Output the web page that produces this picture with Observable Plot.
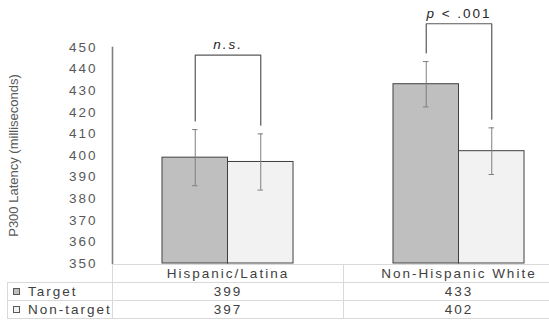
<!DOCTYPE html>
<html><head><meta charset="utf-8">
<script src="https://cdn.jsdelivr.net/npm/d3@7"></script>
<script src="https://cdn.jsdelivr.net/npm/@observablehq/plot@0.6"></script>
<style>
html,body{margin:0;padding:0;background:#fff;overflow:hidden;width:549px;height:320px;}
#wrap{position:relative;width:600px;height:320px;font-family:"Liberation Sans",Arial,sans-serif;}
#wrap svg{position:absolute;left:0;top:0;overflow:visible;}
table{position:absolute;left:7px;top:264px;border-collapse:collapse;table-layout:fixed;font-size:13.5px;letter-spacing:2px;color:#404040;font-family:"Liberation Sans",Arial,sans-serif;}
td{border:1px solid #d9d9d9;height:17px;padding:0;text-align:center;line-height:17px;white-space:nowrap;overflow:hidden;}
td.lab{text-align:left;padding-left:5px;}
td.blank{border-top:none;border-left:none;}
.sw{display:inline-block;width:5px;height:5px;border:1px solid #595959;margin-right:8px;vertical-align:1px;}
</style></head><body><div id="wrap"></div>
<script>
// ---- data ----
const categories = ["Hispanic/Latina", "Non-Hispanic White"];
const series = ["Target", "Non-target"];
const targetValues = [399, 433];
const nonTargetValues = [397, 402];
const targetErr = [13, 10.5];
const nonTargetErr = [13, 10.8];
const bracketLabels = ["n.s.", "p < .001"];
const bracketHeights = [446.5, 461];
const yTicks = [350, 360, 370, 380, 390, 400, 410, 420, 430, 440, 450];
const seriesColors = ["#bfbfbf", "#f2f2f2"];
const yLabel = "P300 Latency (milliseconds)";

// ---- derived tables ----
const rows = [];
categories.forEach((c, i) => {
  rows.push({group: c, series: series[0], value: targetValues[i], lo: targetValues[i] - targetErr[i], hi: targetValues[i] + targetErr[i]});
  rows.push({group: c, series: series[1], value: nonTargetValues[i], lo: nonTargetValues[i] - nonTargetErr[i], hi: nonTargetValues[i] + nonTargetErr[i]});
});
const gap = 4;
const bracketPts = [];
categories.forEach((c, i) => {
  const hT = targetValues[i] + targetErr[i] + gap;
  const hN = nonTargetValues[i] + nonTargetErr[i] + gap;
  bracketPts.push({group: c, x: series[0], y: hT});
  bracketPts.push({group: c, x: series[0], y: bracketHeights[i]});
  bracketPts.push({group: c, x: series[1], y: bracketHeights[i]});
  bracketPts.push({group: c, x: series[1], y: hN});
});
const brackets = categories.map((c, i) => ({group: c, y: bracketHeights[i], label: bracketLabels[i]}));

const yMin = yTicks[0], yMax = yTicks[yTicks.length - 1];
const mL = 112, catW = 231;

const svg = Plot.plot({
  width: mL + catW * categories.length + 1,
  height: 264,
  marginLeft: mL,
  marginRight: 1,
  marginTop: 47,
  marginBottom: 1,
  style: {fontFamily: '"Liberation Sans", Arial, sans-serif', fontSize: "13.5px", color: "#595959", background: "transparent"},
  fx: {domain: categories, padding: 0, axis: null},
  x: {domain: series, paddingInner: 0, paddingOuter: 0.763, round: false, axis: null},
  y: {domain: [yMin, yMax], ticks: yTicks, tickSize: 0, tickPadding: 15, label: yLabel, labelAnchor: "center", labelOffset: 104, labelArrow: "none"},
  color: {domain: series, range: seriesColors},
  marks: [
    Plot.barY(rows, {fx: "group", x: "series", y1: yMin, y2: "value", fill: "series", stroke: "#404040", strokeWidth: 1}),
    Plot.ruleX(rows, {fx: "group", x: "series", y1: "lo", y2: "hi", stroke: "#7f7f7f", strokeWidth: 1}),
    Plot.tickY(rows, {fx: "group", x: "series", y: "lo", stroke: "#7f7f7f", insetLeft: 30, insetRight: 30}),
    Plot.tickY(rows, {fx: "group", x: "series", y: "hi", stroke: "#7f7f7f", insetLeft: 30, insetRight: 30}),
    Plot.line(bracketPts, {fx: "group", x: "x", y: "y", z: "group", stroke: "#595959", strokeWidth: 1.2, curve: "linear"}),
    Plot.text(brackets, {fx: "group", y: "y", text: "label", dy: -6, lineAnchor: "bottom", fill: "#262626", fontSize: 13.5}),
    Plot.frame({anchor: "left", fx: () => categories[0], stroke: "#7f7f7f", strokeWidth: 1.6})
  ]
});

const s = d3.select(svg);
s.selectAll("text").style("letter-spacing", "2px");
s.selectAll("text").filter(function() { return this.textContent === yLabel; }).style("letter-spacing", "0px").style("font-size", "13px");
s.selectAll("text").each(function() {
  const t = this.textContent;
  if (t === "n.s.") d3.select(this).style("font-style", "italic");
  if (t.startsWith("p ")) {
    const el = d3.select(this);
    const rest = t.slice(1);
    el.text(null);
    el.append("tspan").style("font-style", "italic").text("p");
    el.append("tspan").text(rest);
  }
});

const wrap = document.getElementById("wrap");
wrap.appendChild(svg);

// ---- data table below the chart ----
const table = document.createElement("table");
const cg = document.createElement("colgroup");
[mL - 7, catW, catW].forEach(w => { const c = document.createElement("col"); c.style.width = w + "px"; cg.appendChild(c); });
table.appendChild(cg);
const head = table.insertRow();
const b = head.insertCell(); b.className = "blank";
categories.forEach(c => { head.insertCell().textContent = c; });
[targetValues, nonTargetValues].forEach((vals, k) => {
  const r = table.insertRow();
  const lab = r.insertCell(); lab.className = "lab";
  const sw = document.createElement("span"); sw.className = "sw"; sw.style.background = seriesColors[k];
  lab.appendChild(sw); lab.appendChild(document.createTextNode(series[k]));
  vals.forEach(v => { r.insertCell().textContent = v; });
});
wrap.appendChild(table);
</script></body></html>
